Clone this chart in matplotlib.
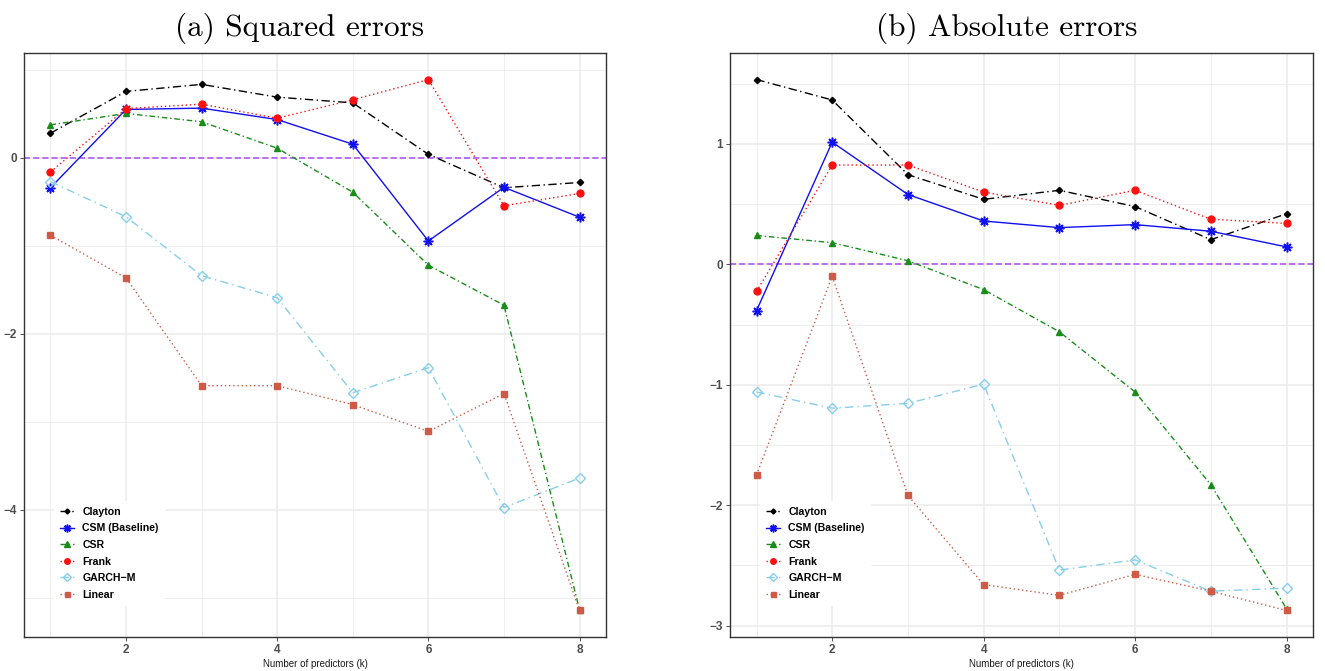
import matplotlib as mpl
import matplotlib.pyplot as plt

mpl.rcParams['font.family'] = ['Liberation Sans', 'DejaVu Sans']

k = [1, 2, 3, 4, 5, 6, 7, 8]
models = ['Clayton', 'CSM (Baseline)', 'CSR', 'Frank', 'GARCH\u2212M', 'Linear']

# (a) squared errors
sq_clayton = [0.28, 0.755, 0.835, 0.69, 0.625, 0.04, -0.34, -0.28]
sq_csm = [-0.34, 0.55, 0.565, 0.435, 0.155, -0.945, -0.335, -0.675]
sq_csr = [0.375, 0.505, 0.41, 0.11, -0.39, -1.22, -1.675, -5.14]
sq_frank = [-0.16, 0.56, 0.61, 0.45, 0.66, 0.89, -0.545, -0.405]
sq_garch = [-0.27, -0.67, -1.34, -1.59, -2.67, -2.385, -3.975, -3.64]
sq_linear = [-0.88, -1.365, -2.59, -2.59, -2.805, -3.11, -2.68, -5.145]

# (b) absolute errors
ab_clayton = [1.535, 1.365, 0.745, 0.54, 0.615, 0.48, 0.205, 0.42]
ab_csm = [-0.385, 1.015, 0.58, 0.36, 0.305, 0.33, 0.275, 0.145]
ab_csr = [0.24, 0.18, 0.03, -0.21, -0.56, -1.06, -1.83, -2.86]
ab_frank = [-0.225, 0.825, 0.825, 0.6, 0.49, 0.615, 0.375, 0.34]
ab_garch = [-1.06, -1.195, -1.155, -0.995, -2.54, -2.455, -2.715, -2.69]
ab_linear = [-1.75, -0.1, -1.92, -2.66, -2.75, -2.575, -2.715, -2.875]

styles = [
    dict(color='black', ls=(0, (6, 2.5, 1, 2.5)), marker='D', ms=3.2),
    dict(color='#1010f0', ls='-', marker=(8, 2, 0), ms=7, mew=1.1),
    dict(color='#1a8c1a', ls=(0, (4, 2, 1, 2)), marker='^', ms=5),
    dict(color='#ff1010', ls=(0, (1, 2)), marker='o', ms=5),
    dict(color='#87CEEB', ls=(0, (6, 3, 1, 3)), marker='D', ms=5.5, mfc='none', mew=1.0),
    dict(color='#CD5B45', ls=(0, (1, 2)), marker='s', ms=4.5),
]

fig = plt.figure(figsize=(13.25, 6.71), dpi=100)
ax1 = fig.add_axes([24 / 1325, 1 - 637 / 671, 582 / 1325, 584 / 671])
ax2 = fig.add_axes([730 / 1325, 1 - 637 / 671, 583 / 1325, 584 / 671])

panels = [
    (ax1, [sq_clayton, sq_csm, sq_csr, sq_frank, sq_garch, sq_linear], [0, -2, -4], [1, -1, -3, -5]),
    (ax2, [ab_clayton, ab_csm, ab_csr, ab_frank, ab_garch, ab_linear], [1, 0, -1, -2, -3], [1.5, 0.5, -0.5, -1.5, -2.5]),
]

for ax, series, major, minor in panels:
    for vals, name, st in zip(series, models, styles):
        ax.plot(k, vals, label=name, lw=1.0, **st)
    ax.axhline(0, color='#A84CF5', ls=(0, (4, 2)), lw=1.1, zorder=1)
    lo = min(min(s) for s in series)
    hi = max(max(s) for s in series)
    pad = (hi - lo) * 0.05
    ax.set_ylim(lo - pad, hi + pad)
    ax.set_xlim(0.65, 8.35)
    ax.set_xticks([2, 4, 6, 8])
    ax.set_xticks([1, 3, 5, 7], minor=True)
    ax.set_yticks(major)
    ax.set_yticks(minor, minor=True)
    ax.grid(True, which='major', color='#ebebeb', lw=1.1, zorder=0)
    ax.grid(True, which='minor', color='#ebebeb', lw=0.6, zorder=0)
    ax.set_axisbelow(True)
    ax.tick_params(which='major', length=3, width=0.6, color='#333333',
                   labelsize=8.5, labelcolor='#4d4d4d', pad=2)
    ax.tick_params(which='minor', length=0)
    for lab in ax.get_xticklabels() + ax.get_yticklabels():
        lab.set_fontweight('bold')
    ax.yaxis.set_major_formatter(mpl.ticker.FuncFormatter(lambda v, p: '%g' % v if v >= 0 else '\u2212%g' % -v))
    for sp in ax.spines.values():
        sp.set_color('#333333')
        sp.set_linewidth(1.0)
    ax.set_xlabel('Number of predictors (k)', fontsize=7, color='#1a1a1a', labelpad=2)
    leg = ax.legend(loc='lower left', bbox_to_anchor=(0.043, 0.045), frameon=True,
                    prop={'weight': 'bold', 'size': 7.6}, handlelength=1.3, markerscale=0.8,
                    handletextpad=0.8, labelspacing=0.62, borderpad=0.55)
    leg.get_frame().set_facecolor('white')
    leg.get_frame().set_edgecolor('white')
    leg.get_frame().set_alpha(1)

fig.text(300 / 1325, 1 - 28 / 671, '(a) Squared errors', fontsize=22.5, family='cmr10',
         ha='center', va='center')
fig.text(1007 / 1325, 1 - 28 / 671, '(b) Absolute errors', fontsize=22.5, family='cmr10',
         ha='center', va='center')

fig.savefig('out.png', dpi=100)
